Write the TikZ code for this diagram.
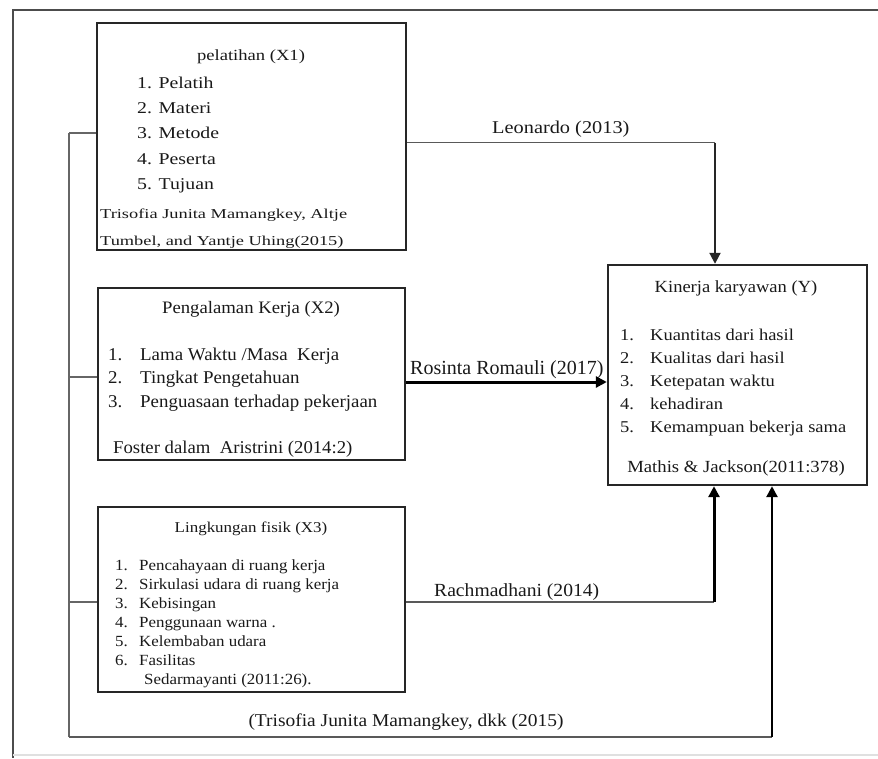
\documentclass[tikz,border=0pt]{standalone}
\usepackage{fontspec}
\setmainfont{Liberation Serif}
\usepackage{graphicx}
\usetikzlibrary{arrows.meta}
\newcommand{\hx}[2]{\scalebox{#1}[1]{#2}}
\newcommand{\fs}[1]{\fontsize{#1}{#1}\selectfont}
\begin{document}
\begin{tikzpicture}[x=1pt,y=-1pt,
  frame/.style={draw=black!70, line width=2pt},
  box/.style={draw=black!85, line width=2.4pt, inner sep=0pt},
  bus/.style={draw=black!60, line width=1.6pt},
  link/.style={draw=black!65, line width=1.8pt},
  heavy/.style={draw=black, line width=3pt},
  tip/.style={-{Triangle[length=11pt,width=11pt]}},
  txt/.style={inner sep=0pt, anchor=base west, text=black!90},
  ctr/.style={inner sep=0pt, anchor=base, text=black!90}]
\useasboundingbox (0,0) rectangle (878,758);
% outer frame
\draw[frame] (878,10) -- (13,10) -- (13,758);
\draw[draw=black!12, line width=1.2pt] (13,755) -- (878,755);

% boxes
\node[box, minimum width=309pt, minimum height=227pt] (x1) at (251.5,136.5) {};
\node[box, minimum width=307pt, minimum height=172pt] (x2) at (251.5,374) {};
\node[box, minimum width=307pt, minimum height=185pt] (x3) at (251.5,599.5) {};
\node[box, minimum width=259pt, minimum height=220pt] (y) at (737.5,375) {};

% X1 text
\node[ctr, font=\fs{15.5}] (x1t) at (251,60) {\hx{1.2}{pelatihan (X1)}};
\node[txt, font=\fs{16.5}] (x1a) at (137,88) {\hx{1.2}{1. Pelatih}};
\node[txt, font=\fs{16.5}] (x1b) at (137,113) {\hx{1.2}{2. Materi}};
\node[txt, font=\fs{16.5}] (x1c) at (137,138) {\hx{1.2}{3. Metode}};
\node[txt, font=\fs{16.5}] (x1d) at (137,164) {\hx{1.2}{4. Peserta}};
\node[txt, font=\fs{16.5}] (x1e) at (137,189) {\hx{1.2}{5. Tujuan}};
\node[txt, font=\fs{13.6}] (x1f) at (100,218) {\hx{1.35}{Trisofia Junita Mamangkey, Altje}};
\node[txt, font=\fs{13.6}] (x1g) at (100,245) {\hx{1.35}{Tumbel, and Yantje Uhing(2015)}};

% X2 text
\node[ctr, font=\fs{17.5}] (x2t) at (251,313) {\hx{1.07}{Pengalaman Kerja (X2)}};
\node[txt, font=\fs{18}] (x2n1) at (108,360) {\hx{1.05}{1.}};
\node[txt, font=\fs{18}] (x2n2) at (108,383) {\hx{1.05}{2.}};
\node[txt, font=\fs{18}] (x2n3) at (108,407) {\hx{1.05}{3.}};
\node[txt, font=\fs{18}] (x2a) at (140,360) {\hx{1.05}{Lama Waktu /Masa\ \ Kerja}};
\node[txt, font=\fs{18}] (x2b) at (140,383) {\hx{1.05}{Tingkat Pengetahuan}};
\node[txt, font=\fs{18}] (x2c) at (140,407) {\hx{1.05}{Penguasaan terhadap pekerjaan}};
\node[txt, font=\fs{18}] (x2d) at (113,453) {\hx{1.04}{Foster dalam\ \ Aristrini (2014:2)}};

% X3 text
\node[ctr, font=\fs{15}] (x3t) at (251,532) {\hx{1.13}{Lingkungan fisik (X3)}};
\node[txt, font=\fs{15.5}] (x3n1) at (115,570) {\hx{1.09}{1.}};
\node[txt, font=\fs{15.5}] (x3n2) at (115,589) {\hx{1.09}{2.}};
\node[txt, font=\fs{15.5}] (x3n3) at (115,608) {\hx{1.09}{3.}};
\node[txt, font=\fs{15.5}] (x3n4) at (115,627) {\hx{1.09}{4.}};
\node[txt, font=\fs{15.5}] (x3n5) at (115,646) {\hx{1.09}{5.}};
\node[txt, font=\fs{15.5}] (x3n6) at (115,665) {\hx{1.09}{6.}};
\node[txt, font=\fs{15.5}] (x3a) at (139,570) {\hx{1.09}{Pencahayaan di ruang kerja}};
\node[txt, font=\fs{15.5}] (x3b) at (139,589) {\hx{1.09}{Sirkulasi udara di ruang kerja}};
\node[txt, font=\fs{15.5}] (x3c) at (139,608) {\hx{1.09}{Kebisingan}};
\node[txt, font=\fs{15.5}] (x3d) at (139,627) {\hx{1.09}{Penggunaan warna .}};
\node[txt, font=\fs{15.5}] (x3e) at (139,646) {\hx{1.09}{Kelembaban udara}};
\node[txt, font=\fs{15.5}] (x3f) at (139,665) {\hx{1.09}{Fasilitas}};
\node[txt, font=\fs{15.5}] (x3g) at (144,684) {\hx{1.09}{Sedarmayanti (2011:26).}};

% Y text
\node[ctr, font=\fs{17}] (yt) at (736,292) {\hx{1.09}{Kinerja karyawan (Y)}};
\node[txt, font=\fs{16.5}] (yn1) at (620,340) {\hx{1.12}{1.}};
\node[txt, font=\fs{16.5}] (yn2) at (620,363) {\hx{1.12}{2.}};
\node[txt, font=\fs{16.5}] (yn3) at (620,386) {\hx{1.12}{3.}};
\node[txt, font=\fs{16.5}] (yn4) at (620,409) {\hx{1.12}{4.}};
\node[txt, font=\fs{16.5}] (yn5) at (620,432) {\hx{1.12}{5.}};
\node[txt, font=\fs{16.5}] (ya) at (650,340) {\hx{1.12}{Kuantitas dari hasil}};
\node[txt, font=\fs{16.5}] (yb) at (650,363) {\hx{1.12}{Kualitas dari hasil}};
\node[txt, font=\fs{16.5}] (yc) at (650,386) {\hx{1.12}{Ketepatan waktu}};
\node[txt, font=\fs{16.5}] (yd) at (650,409) {\hx{1.12}{kehadiran}};
\node[txt, font=\fs{16.5}] (ye) at (650,432) {\hx{1.12}{Kemampuan bekerja sama}};
\node[ctr, font=\fs{17}] (yf) at (736,472) {\hx{1.1}{Mathis \& Jackson(2011:378)}};

% connector labels
\node[txt, font=\fs{18}] (l1) at (492,133) {\hx{1.13}{Leonardo (2013)}};
\node[txt, font=\fs{20}] (l2) at (410,374) {Rosinta Romauli (2017)};
\node[txt, font=\fs{18.5}] (l3) at (434,596) {\hx{1.06}{Rachmadhani (2014)}};
\node[ctr, font=\fs{18}] (l4) at (406,726) {\hx{1.08}{(Trisofia Junita Mamangkey, dkk (2015)}};

% bus on the left
\coordinate (b1) at (69,133);
\coordinate (b2) at (69,377);
\coordinate (b3) at (69,602);
\coordinate (b4) at (69,737);
\draw[bus] (b1) -- (b4);
\draw[bus] (b1) -- (b1 -| x1.west);
\draw[bus] (b2) -- (b2 -| x2.west);
\draw[bus] (b3) -- (b3 -| x3.west);

% entry points on Y
\coordinate (yn) at ([xshift=-22.5pt]y.north);
\coordinate (ys1) at ([xshift=-23.5pt]y.south);
\coordinate (ys2) at ([xshift=34.5pt]y.south);
\coordinate (e1) at ([yshift=-6pt]x1.east);
\coordinate (e2) at ([yshift=-8pt]x2.east);
\coordinate (e3) at ([yshift=-2.5pt]x3.east);
\coordinate (k1) at (e1 -| yn);
\coordinate (k3) at (e3 -| ys1);
\coordinate (k4) at (b4 -| ys2);

% connectors to Y
\draw[link] (e1) -- (k1);
\draw[draw=black!85, line width=2pt, tip] (k1) -- (yn);
\draw[heavy, tip] (e2) -- (e2 -| y.west);
\draw[link] (e3) -- (k3);
\draw[heavy, tip] (k3) -- (ys1);
\draw[link] (b4) -- (k4);
\draw[line width=2.6pt, tip] (k4) -- (ys2);
\end{tikzpicture}
\end{document}
